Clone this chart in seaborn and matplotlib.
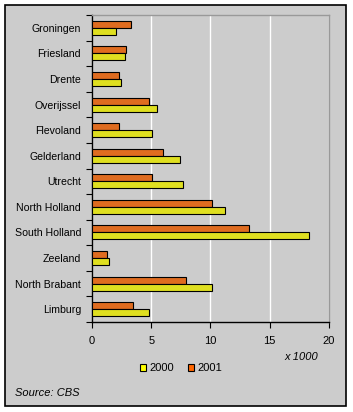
import matplotlib
matplotlib.use("Agg")
import matplotlib.pyplot as plt
import seaborn as sns
import pandas as pd
from matplotlib.patches import Rectangle, Patch
from matplotlib.ticker import FixedLocator, NullFormatter

provinces = ["Groningen", "Friesland", "Drente", "Overijssel", "Flevoland", "Gelderland",
             "Utrecht", "North Holland", "South Holland", "Zeeland", "North Brabant", "Limburg"]
values_2000 = [2.05, 2.8, 2.45, 5.5, 5.05, 7.4, 7.7, 11.25, 18.3, 1.4, 10.15, 4.8]
values_2001 = [3.25, 2.9, 2.3, 4.85, 2.3, 5.95, 5.1, 10.15, 13.25, 1.25, 7.95, 3.5]
years = ["2000", "2001"]
colors = {"2000": "#FFFF00", "2001": "#FF6600"}

df = pd.DataFrame({
    "province": provinces * 2,
    "value": values_2000 + values_2001,
    "year": ["2000"] * len(provinces) + ["2001"] * len(provinces),
})

W, H = 353, 412
fig = plt.figure(figsize=(W / 100, H / 100), dpi=100, facecolor="white")
plt.rcParams["font.family"] = ["Liberation Sans", "DejaVu Sans"]
fig.patches.append(Rectangle((5 / W, 1 - 406 / H), 341 / W, 401 / H, transform=fig.transFigure,
                             facecolor="#CCCCCC", edgecolor="black", linewidth=1.2, zorder=-10))

ax = fig.add_axes([92 / W, 1 - 322 / H, 237 / W, 307 / H])
ax.set_zorder(5)
ax.set_facecolor("#CCCCCC")
sns.barplot(data=df, x="value", y="province", hue="year", hue_order=["2001", "2000"],
            order=provinces, palette=colors, width=0.55, edgecolor="black", linewidth=0.8,
            dodge=True, legend=False, ax=ax, zorder=3)

ax.set_xlim(0, 20)
ax.set_ylim(len(provinces) - 0.5, -0.5)
ax.set_xticks([0, 5, 10, 15, 20])
ax.set_xticklabels(["0", "5", "10", "15", "20"], fontsize=8)
ax.xaxis.grid(True, color="white", linewidth=1)
ax.yaxis.grid(False)
ax.set_axisbelow(True)
ax.set_xlabel("")
ax.set_ylabel("")
ax.tick_params(axis="y", which="major", length=0, labelsize=7.6, pad=8)
ax.yaxis.set_minor_locator(FixedLocator([i - 0.5 for i in range(len(provinces) + 1)]))
ax.yaxis.set_minor_formatter(NullFormatter())
ax.tick_params(axis="y", which="minor", length=4, width=0.8, color="black", direction="out")
ax.tick_params(axis="x", length=4, width=0.8, color="black", pad=6)
for s in ["top", "right"]:
    ax.spines[s].set_color("#999999")
    ax.spines[s].set_linewidth(1)
for s in ["left", "bottom"]:
    ax.spines[s].set_color("black")
    ax.spines[s].set_linewidth(1)

fig.text(318 / W, 1 - 357 / H, "x 1000", style="italic", fontsize=8, ha="right", va="center")
fig.text(15 / W, 1 - 393 / H, "Source: CBS", style="italic", fontsize=8, ha="left", va="center")

handles = [Patch(facecolor=colors[y], edgecolor="black", linewidth=0.8) for y in years]
fig.legend(handles, years, loc="center", bbox_to_anchor=(181 / W, 1 - 368 / H), ncol=2,
           frameon=False, fontsize=8, handlelength=0.6, handleheight=0.6,
           handletextpad=0.3, columnspacing=1.2)

fig.savefig("out.png", dpi=100, facecolor="white")
